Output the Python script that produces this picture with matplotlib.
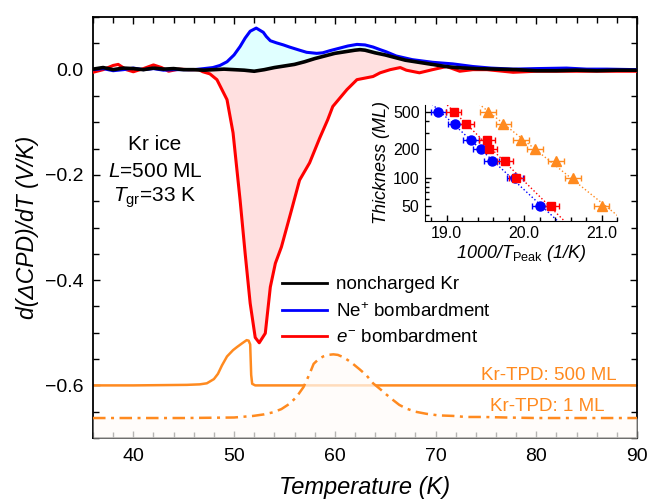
import matplotlib
matplotlib.use("Agg")
import matplotlib.pyplot as plt
import numpy as np
from matplotlib.ticker import MultipleLocator, FixedLocator, NullFormatter, LogLocator

plt.rcParams['font.family'] = ['Liberation Sans', 'DejaVu Sans']
plt.rcParams['mathtext.fontset'] = 'custom'
plt.rcParams['mathtext.rm'] = 'Liberation Sans'
plt.rcParams['mathtext.it'] = 'Liberation Sans:italic'
plt.rcParams['mathtext.bf'] = 'Liberation Sans:bold'

# --- main panel data (temperature in K, d(dCPD)/dT in V/K) ---
T_red = [36.0, 37.0, 38.0, 38.5, 39.3, 40.0, 41.0, 42.0, 42.8, 43.5, 44.5, 45.5, 46.5, 46.9,
         47.6, 48.3, 49.3, 49.9, 50.6, 51.1, 51.6, 52.1, 52.5, 53.1, 53.6, 54.1, 54.7, 55.7,
         56.5, 57.5, 58.5, 59.3, 59.8, 61.2, 62.2, 63.8, 64.5, 65.5, 66.5, 67.1, 68.4, 69.7,
         71.1, 72.4, 73.7, 75.1, 77.7, 80.0, 85.0, 90.0]
v_red = [-0.005, 0.0, 0.008, 0.010, 0.0, -0.004, 0.002, 0.009, 0.004, -0.003, 0.001, 0.0, 0.0, -0.004,
         -0.008, -0.019, -0.057, -0.12, -0.248, -0.349, -0.444, -0.509, -0.519, -0.501, -0.413, -0.368,
         -0.337, -0.267, -0.21, -0.177, -0.13, -0.095, -0.07, -0.038, -0.019, -0.013, -0.006, 0.0,
         0.004, -0.001, -0.006, 0.0, 0.006, -0.003, 0.0, 0.0, -0.005, -0.003, -0.003, -0.003]

T_blue = [36, 37, 38, 39, 40, 41, 42, 43, 44, 45, 46, 47, 47.9, 48.6, 49.3, 50.0, 50.6, 51.1, 51.6,
          52.2, 52.9, 53.2, 53.6, 54.2, 54.9, 55.5, 56.5, 57.2, 58.2, 58.8, 59.5, 60.5, 61.3, 62.2,
          63.0, 63.8, 64.5, 65.1, 66.1, 67.7, 69.7, 71.7, 73.7, 75.5, 77.7, 80, 83, 85, 87, 90]
v_blue = [0.0, 0.002, -0.002, 0.0, 0.003, 0.0, 0.002, -0.001, 0.0, 0.0, 0.0, 0.002, 0.004, 0.008,
          0.015, 0.028, 0.044, 0.060, 0.073, 0.079, 0.071, 0.063, 0.055, 0.051, 0.047, 0.043, 0.037,
          0.033, 0.031, 0.032, 0.036, 0.041, 0.045, 0.048, 0.047, 0.043, 0.038, 0.034, 0.026, 0.019,
          0.014, 0.011, 0.006, 0.003, 0.001, 0.002, 0.003, 0.001, 0.001, 0.0]

T_black = [36, 37, 38, 39, 40, 41, 42, 43, 44, 45, 46, 47, 48, 49, 50, 51, 52, 53, 54, 55, 56, 57,
           58, 59, 60, 61, 62, 62.5, 63, 64, 65, 66, 67, 68, 69, 70, 71, 72, 74, 76, 78, 80, 82, 84,
           86, 88, 90]
v_black = [0.001, 0.004, 0.0, 0.003, 0.002, 0.0, 0.003, 0.001, 0.002, 0.0, 0.0, -0.001, 0.0, 0.001,
           0.0, -0.001, -0.003, 0.0, 0.004, 0.007, 0.010, 0.015, 0.021, 0.026, 0.031, 0.034, 0.037,
           0.038, 0.037, 0.032, 0.028, 0.023, 0.018, 0.015, 0.012, 0.009, 0.006, 0.004, 0.002, 0.001,
           0.0, -0.002, -0.002, -0.001, -0.002, -0.001, -0.001]

# Kr TPD traces (offset, arbitrary units)
T_tpd500 = [36, 40, 45.3, 46.6, 47.3, 48.0, 48.4, 48.8, 49.3, 49.9, 50.3, 50.8, 51.25, 51.45, 51.6,
            51.7, 51.8, 52.1, 55, 60, 70, 80, 90]
v_tpd500 = [-0.6, -0.6, -0.599, -0.598, -0.596, -0.588, -0.578, -0.562, -0.545, -0.533, -0.527, -0.52,
            -0.514, -0.515, -0.522, -0.58, -0.597, -0.6, -0.6, -0.6, -0.6, -0.6, -0.6]

T_tpd1 = [36, 45, 50, 51.9, 53.0, 53.9, 54.7, 55.5, 56.2, 56.9, 57.5, 57.9, 58.4, 58.85, 59.35, 59.85,
          60.3, 60.8, 61.3, 61.8, 62.5, 63.15, 63.8, 64.5, 65.1, 65.8, 66.4, 67.1, 68, 69.1, 70.3,
          71.75, 73, 74.7, 77, 80, 85, 90]
v_tpd1 = [-0.662, -0.662, -0.661, -0.658, -0.655, -0.651, -0.645, -0.635, -0.622, -0.603, -0.578,
          -0.559, -0.55, -0.545, -0.542, -0.541, -0.542, -0.546, -0.552, -0.559, -0.57, -0.581,
          -0.596, -0.607, -0.617, -0.628, -0.637, -0.644, -0.65, -0.654, -0.657, -0.658, -0.66,
          -0.66, -0.661, -0.662, -0.662, -0.662]

# --- inset data ---
thickness = [500, 375, 250, 200, 150, 100, 50]
x_ne = [18.89, 19.11, 19.31, 19.44, 19.58, 19.88, 20.20]
x_el = [19.09, 19.25, 19.52, 19.55, 19.75, 19.90, 20.35]
x_tpd = [19.53, 19.73, 19.96, 20.14, 20.41, 20.63, 21.00]
x_err = [0.1, 0.1, 0.1, 0.1, 0.1, 0.1, 0.1]

orange = '#ff8a1f'

fig = plt.figure(figsize=(6.51, 5.01), dpi=100)
ax = fig.add_axes([0.1429, 0.1257, 0.8356, 0.8403])

# fills between curves and the reference (noncharged) curve
ref_r = np.interp(T_red, T_black, v_black)
ax.fill_between(T_red, v_red, ref_r, where=np.array(v_red) <= ref_r, color='#ffe0e0', lw=0, zorder=1)
ref_b = np.interp(T_blue, T_black, v_black)
ax.fill_between(T_blue, v_blue, ref_b, where=np.array(v_blue) >= ref_b, color='#e0ffff', lw=0, zorder=1)

ax.plot(T_tpd500, v_tpd500, color=orange, lw=1.8, zorder=2)
ax.fill_between(T_tpd1, v_tpd1, -0.7, color='#fffcf9', alpha=0.72, lw=0, zorder=3)
ax.plot(T_tpd1, v_tpd1, color=orange, lw=1.8, ls=(0, (5, 2.2, 1.2, 2.2)), zorder=4)

ax.plot(T_red, v_red, color='#ff0000', lw=2.2, zorder=5)
ax.plot(T_blue, v_blue, color='#0000ff', lw=2.2, zorder=6)
ax.plot(T_black, v_black, color='black', lw=2.6, zorder=7)

# legend handles
hk, = ax.plot([], [], color='black', lw=2.0, label='noncharged Kr')
hb, = ax.plot([], [], color='#0000ff', lw=2.0, label='Ne$^{+}$ bombardment')
hr, = ax.plot([], [], color='#ff0000', lw=2.0, label='$e^{-}$ bombardment')
ax.legend(handles=[hk, hb, hr], loc='upper left', bbox_to_anchor=(0.348, 0.384), frameon=False,
          fontsize=13.5, handlelength=2.4, handletextpad=0.45, labelspacing=0.45,
          borderpad=0, borderaxespad=0)

ax.set_xlim(36, 90)
ax.set_ylim(-0.7, 0.1)
ax.xaxis.set_major_locator(MultipleLocator(10))
ax.xaxis.set_minor_locator(MultipleLocator(2))
ax.yaxis.set_major_locator(MultipleLocator(0.2))
ax.yaxis.set_minor_locator(MultipleLocator(0.05))
ax.yaxis.set_major_formatter(plt.FuncFormatter(lambda v, p: f'{v:.1f}'.replace('-', '\u2212')))
ax.tick_params(which='both', direction='in', top=True, right=True, labelsize=14, pad=7, width=1.0)
ax.tick_params(which='major', length=5)
ax.tick_params(which='minor', length=4)
for s in ax.spines.values():
    s.set_linewidth(1.3)

ax.set_xlabel('Temperature (K)', fontsize=17, style='italic', labelpad=8)
ax.set_ylabel('d(\u0394CPD)/dT (V/K)', fontsize=16.5, style='italic', labelpad=4)

ax.text(42.15, -0.143, 'Kr ice', fontsize=15, ha='center', va='center')
ax.text(42.15, -0.194, '$L$=500 ML', fontsize=15, ha='center', va='center')
ax.text(42.15, -0.244, '$T_{\\rm gr}$=33 K', fontsize=15, ha='center', va='center')

ax.text(88.0, -0.581, 'Kr-TPD: 500 ML', color=orange, fontsize=13.5, ha='right', va='center')
ax.text(86.8, -0.641, 'Kr-TPD: 1 ML', color=orange, fontsize=13.5, ha='right', va='center')

# --- inset ---
ins = fig.add_axes([0.653, 0.559, 0.295, 0.2315])
ins.patch.set_alpha(0)
for xs, c, m, ms in [(x_ne, '#0000ff', 'o', 6.5), (x_el, '#ff0000', 's', 6), (x_tpd, orange, '^', 7.5)]:
    ins.errorbar(xs, thickness, xerr=x_err, fmt=m, color=c, ms=ms, capsize=2.5, elinewidth=1, capthick=1)
    k, b = np.polyfit(xs, np.log10(thickness), 1)
    xf = np.array([18.6, 21.3])
    ins.plot(xf, 10 ** (k * xf + b), ls=':', color=c, lw=1.0)

ins.set_yscale('log')
ins.set_xlim(18.72, 21.2)
ins.set_ylim(35, 590)
ins.yaxis.set_major_locator(FixedLocator([50, 100, 200, 500]))
ins.yaxis.set_major_formatter(plt.FuncFormatter(lambda v, p: f'{int(v)}'))
ins.yaxis.set_minor_locator(LogLocator(subs=(3, 4, 6, 7, 8, 9)))
ins.yaxis.set_minor_formatter(NullFormatter())
ins.xaxis.set_major_locator(FixedLocator([19.0, 20.0, 21.0]))
ins.xaxis.set_major_formatter(plt.FuncFormatter(lambda v, p: f'{v:.1f}'))
ins.xaxis.set_minor_locator(MultipleLocator(0.2))
ins.spines['top'].set_visible(False)
ins.spines['right'].set_visible(False)
ins.tick_params(which='both', direction='in', labelsize=11.5, pad=4, width=1.0)
ins.tick_params(which='major', length=4)
ins.tick_params(which='minor', length=3)
ins.set_xlabel('1000/$\\mathit{T}_{\\rm Peak}$ (1/K)', fontsize=13, style='italic', labelpad=1)
ins.set_ylabel('Thickness (ML)', fontsize=13, style='italic', labelpad=2)

fig.savefig('out.png', dpi=100)
